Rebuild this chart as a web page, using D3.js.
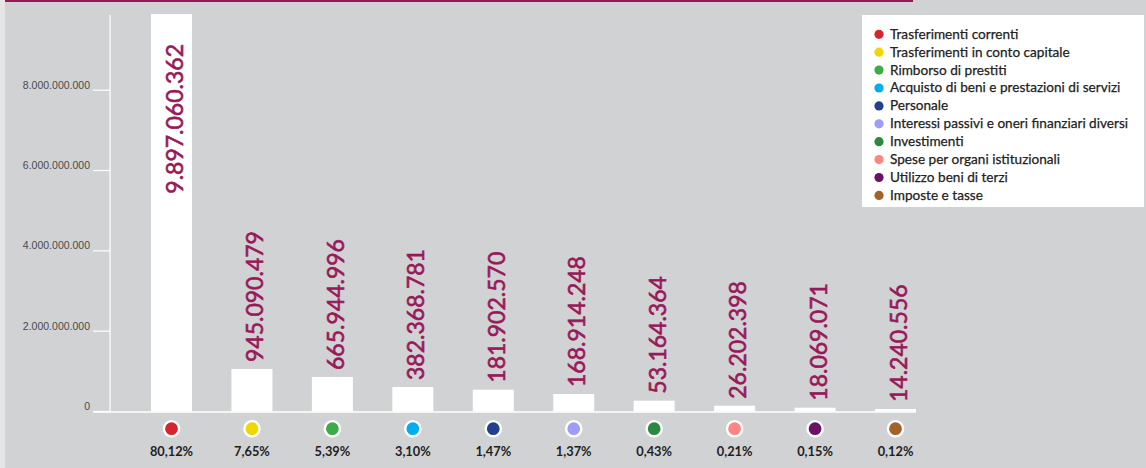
<!DOCTYPE html>
<html>
<head>
<meta charset="utf-8">
<script src="https://cdn.jsdelivr.net/npm/d3@7"></script>
<style>
  body { margin: 0; background: #d1d2d4; }
  svg { display: block; }
</style>
</head>
<body>
<div id="chart"></div>
<script>
// categorie di spesa
var categories = [
    "Trasferimenti correnti",
    "Trasferimenti in conto capitale",
    "Rimborso di prestiti",
    "Acquisto di beni e prestazioni di servizi",
    "Personale",
    "Interessi passivi e oneri finanziari diversi",
    "Investimenti",
    "Spese per organi istituzionali",
    "Utilizzo beni di terzi",
    "Imposte e tasse"
];
// importi (etichette sulle barre)
var amounts = [9897060362, 945090479, 665944996, 382368781, 181902570, 168914248, 53164364, 26202398, 18069071, 14240556];
// altezze delle barre come disegnate nell'originale
var barValues = [9897060362, 1058000000, 859000000, 610000000, 543000000, 436000000, 269000000, 144000000, 95000000, 62000000];
var percents = ["80,12%", "7,65%", "5,39%", "3,10%", "1,47%", "1,37%", "0,43%", "0,21%", "0,15%", "0,12%"];
var colors = ["#d7252d", "#eed800", "#3dac48", "#00aeef", "#233f8e", "#9d9cf9", "#2b8a3f", "#ff8583", "#6c1165", "#a2622a"];
var yTicks = [0, 2000000000, 4000000000, 6000000000, 8000000000];

var width = 1146, height = 468;
var magenta = "#98195a";

var svg = d3.select("#chart").append("svg")
    .attr("width", width)
    .attr("height", height);

svg.append("rect").attr("width", width).attr("height", height).attr("fill", "#d1d2d4");
svg.append("rect").attr("width", 5).attr("height", height).attr("fill", "#e6e6e7");
svg.append("rect").attr("x", 5).attr("width", 908).attr("height", 2).attr("fill", magenta);

var fmt = d3.formatLocale({ decimal: ",", thousands: ".", grouping: [3], currency: ["", "€"] }).format(",d");

var x = d3.scalePoint()
    .domain(categories)
    .range([171.5, 895.5]);
var barW = 41;

var y = d3.scaleLinear()
    .domain([0, 9897060362])
    .range([411.5, 14]);

// asse y
var axisX = 110;
svg.append("line")
    .attr("x1", axisX).attr("x2", axisX)
    .attr("y1", 15).attr("y2", y(0))
    .attr("stroke", "#fff").attr("stroke-width", 1.2);

var ticks = svg.selectAll(".tick").data(yTicks).enter().append("g").attr("class", "tick");
ticks.append("line")
    .attr("x1", 93).attr("x2", axisX)
    .attr("y1", function (d) { return y(d); })
    .attr("y2", function (d) { return y(d); })
    .attr("stroke", "#fff").attr("stroke-width", 1.2);
ticks.append("text")
    .attr("x", 90)
    .attr("y", function (d) { return y(d) - 1.5; })
    .attr("text-anchor", "end")
    .attr("font-family", "Liberation Sans, Arial, sans-serif")
    .attr("font-size", "10.5px")
    .attr("fill", "#4a4a4a")
    .text(function (d) { return fmt(d); });

// barre
svg.selectAll(".bar").data(barValues).enter().append("rect")
    .attr("class", "bar")
    .attr("x", function (d, i) { return x(categories[i]) - barW / 2; })
    .attr("y", function (d) { return y(d); })
    .attr("width", barW)
    .attr("height", function (d) { return y(0) - y(d); })
    .attr("fill", "#fff");

// linea di base
svg.append("line")
    .attr("x1", 93).attr("x2", x(categories[categories.length - 1]) + barW / 2)
    .attr("y1", y(0) + 0.5).attr("y2", y(0) + 0.5)
    .attr("stroke", "#fff").attr("stroke-width", 1.5);

// etichette importi
svg.selectAll(".val").data(amounts).enter().append("text")
    .attr("class", "val")
    .attr("transform", function (d, i) {
        var top = y(barValues[i]);
        var yy = top < 180 ? top + 30 : top - 7;
        return "translate(" + (x(categories[i]) + 11.5) + "," + yy + ") rotate(-90)";
    })
    .attr("text-anchor", function (d, i) { return y(barValues[i]) < 180 ? "end" : "start"; })
    .attr("font-family", "Lato, 'Open Sans', sans-serif")
    .attr("font-size", "23px")
    .attr("fill", magenta)
    .attr("stroke", magenta)
    .attr("stroke-width", 0.6)
    .text(function (d) { return fmt(d); });

// pallini sotto l'asse
svg.selectAll(".dot").data(categories).enter().append("circle")
    .attr("class", "dot")
    .attr("cx", function (d) { return x(d); })
    .attr("cy", 428.7)
    .attr("r", 7.6)
    .attr("fill", function (d, i) { return colors[i]; })
    .attr("stroke", "#fff")
    .attr("stroke-width", 2.4);

svg.selectAll(".pct").data(percents).enter().append("text")
    .attr("class", "pct")
    .attr("x", function (d, i) { return x(categories[i]); })
    .attr("y", 456)
    .attr("text-anchor", "middle")
    .attr("font-family", "Lato, 'Open Sans', sans-serif")
    .attr("font-weight", "bold")
    .attr("font-size", "12.8px")
    .attr("fill", "#1e1e1e")
    .text(function (d) { return d; });

// legenda
var legend = svg.append("g").attr("transform", "translate(862,15)");
legend.append("rect")
    .attr("width", 282).attr("height", 192)
    .attr("fill", "#fff");
var item = legend.selectAll(".item").data(categories).enter().append("g")
    .attr("class", "item")
    .attr("transform", function (d, i) { return "translate(0," + (19.3 + i * 17.9) + ")"; });
item.append("circle")
    .attr("cx", 17).attr("cy", 0).attr("r", 4.6)
    .attr("fill", function (d, i) { return colors[i]; });
item.append("text")
    .attr("x", 28).attr("y", 4.4)
    .attr("font-family", "Lato, 'Open Sans', sans-serif")
    .attr("font-size", "13.6px")
    .attr("fill", "#222")
    .attr("stroke", "#222")
    .attr("stroke-width", 0.25)
    .text(function (d) { return d; });
</script>
</body>
</html>
